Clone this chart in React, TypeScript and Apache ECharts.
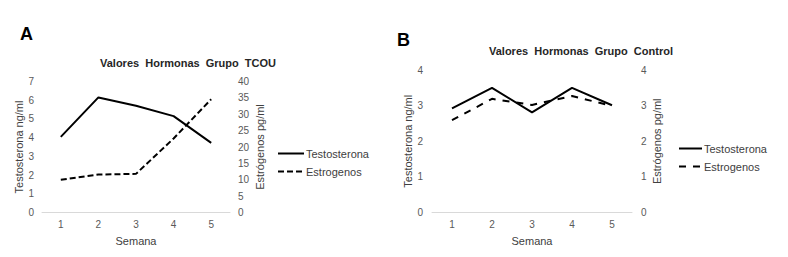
import React, { useEffect, useRef } from "react";
import * as echarts from "echarts";

const semanas = ["1", "2", "3", "4", "5"];
const testoTCOU = [4.04, 6.15, 5.7, 5.15, 3.72];
const estroTCOU = [10.0, 11.6, 11.8, 22.6, 34.6];
const testoControl = [2.92, 3.5, 2.81, 3.5, 3.01];
const estroControl = [2.59, 3.19, 3.02, 3.27, 2.99];

const titleA = "Valores  Hormonas  Grupo  TCOU";
const titleB = "Valores  Hormonas  Grupo  Control";
const leftName = "Testosterona ng/ml";
const rightName = "Estrógenos pg/ml";
const xName = "Semana";
const nameT = "Testosterona";
const nameE = "Estrogenos";

const FONT = "Liberation Sans";
const LABEL_COLOR = "#595959";

export default function App() {
  const ref = useRef<HTMLDivElement>(null);
  useEffect(() => {
    if (!ref.current) return;
    const chart = echarts.init(ref.current, undefined, { renderer: "svg" });
    const axisLabel = { color: LABEL_COLOR, fontFamily: FONT, fontSize: 10 };
    const nameStyle = { color: "#404040", fontFamily: FONT, fontSize: 11 };
    const yBase = (min: number, max: number, interval: number, name: string, gap: number, margin: number) => ({
      type: "value",
      min,
      max,
      interval,
      name,
      nameLocation: "middle",
      nameGap: gap,
      nameTextStyle: nameStyle,
      axisLine: { show: false },
      axisTick: { show: false },
      splitLine: { show: false },
      axisLabel: { ...axisLabel, margin },
    });
    const xBase = (gridIndex: number) => ({
      type: "category",
      gridIndex,
      data: semanas,
      boundaryGap: true,
      name: xName,
      nameLocation: "middle",
      nameGap: 23,
      nameTextStyle: nameStyle,
      axisLine: { show: true, lineStyle: { color: "#d9d9d9", width: 1 } },
      axisTick: { show: false },
      axisLabel: { ...axisLabel, margin: 7 },
    });
    const legendText = { fontFamily: FONT, fontSize: 11, color: "#404040", padding: [0, 0, 0, -3] };
    chart.setOption({
      animation: false,
      backgroundColor: "#ffffff",
      title: [
        {
          text: titleA,
          left: 100,
          top: 57,
          padding: 0,
          textStyle: { fontFamily: FONT, fontSize: 11, fontWeight: "bold", color: "#262626" },
        },
        {
          text: titleB,
          left: 489,
          top: 45,
          padding: 0,
          textStyle: { fontFamily: FONT, fontSize: 11, fontWeight: "bold", color: "#262626" },
        },
      ],
      grid: [
        { left: 42, top: 81.5, width: 188, height: 131 },
        { left: 432, top: 70, width: 200, height: 142.5 },
      ],
      xAxis: [xBase(0), xBase(1)],
      yAxis: [
        { ...yBase(0, 7, 1, leftName, 16, 8), gridIndex: 0, position: "left" },
        { ...yBase(0, 40, 5, rightName, 24, 8), gridIndex: 0, position: "right" },
        { ...yBase(0, 4, 1, leftName, 17, 9), gridIndex: 1, position: "left" },
        { ...yBase(0, 4, 1, rightName, 19, 9), gridIndex: 1, position: "right" },
      ],
      legend: [
        {
          orient: "vertical",
          left: 272,
          top: 143,
          itemWidth: 26,
          itemHeight: 12,
          itemGap: 7,
          itemStyle: { opacity: 0 },
          textStyle: legendText,
          data: [nameT, nameE],
        },
        {
          orient: "vertical",
          left: 673,
          top: 138,
          itemWidth: 23,
          itemHeight: 12,
          itemGap: 7,
          itemStyle: { opacity: 0 },
          textStyle: legendText,
          data: [nameT + " ", nameE + " "],
        },
      ],
      graphic: [
        {
          type: "text",
          left: 20,
          top: 25,
          style: { text: "A", fontFamily: FONT, fontSize: 18, fontWeight: "bold", fill: "#000" },
        },
        {
          type: "text",
          left: 397,
          top: 31,
          style: { text: "B", fontFamily: FONT, fontSize: 18, fontWeight: "bold", fill: "#000" },
        },
      ],
      series: [
        {
          name: nameT,
          type: "line",
          xAxisIndex: 0,
          yAxisIndex: 0,
          data: testoTCOU,
          symbol: "none",
          lineStyle: { color: "#000", width: 2, type: "solid" },
          itemStyle: { color: "#000" },
        },
        {
          name: nameE,
          type: "line",
          xAxisIndex: 0,
          yAxisIndex: 1,
          data: estroTCOU,
          symbol: "none",
          lineStyle: { color: "#000", width: 2, type: [6, 3] },
          itemStyle: { color: "#000" },
        },
        {
          name: nameT + " ",
          type: "line",
          xAxisIndex: 1,
          yAxisIndex: 2,
          data: testoControl,
          symbol: "none",
          lineStyle: { color: "#000", width: 2, type: "solid" },
          itemStyle: { color: "#000" },
        },
        {
          name: nameE + " ",
          type: "line",
          xAxisIndex: 1,
          yAxisIndex: 3,
          data: estroControl,
          symbol: "none",
          lineStyle: { color: "#000", width: 2, type: [7, 7] },
          itemStyle: { color: "#000" },
        },
      ],
    });
    return () => chart.dispose();
  }, []);
  return (
    <div
      ref={ref}
      style={{ position: "fixed", left: 0, top: 0, width: 788, height: 257, background: "#fff" }}
    />
  );
}
